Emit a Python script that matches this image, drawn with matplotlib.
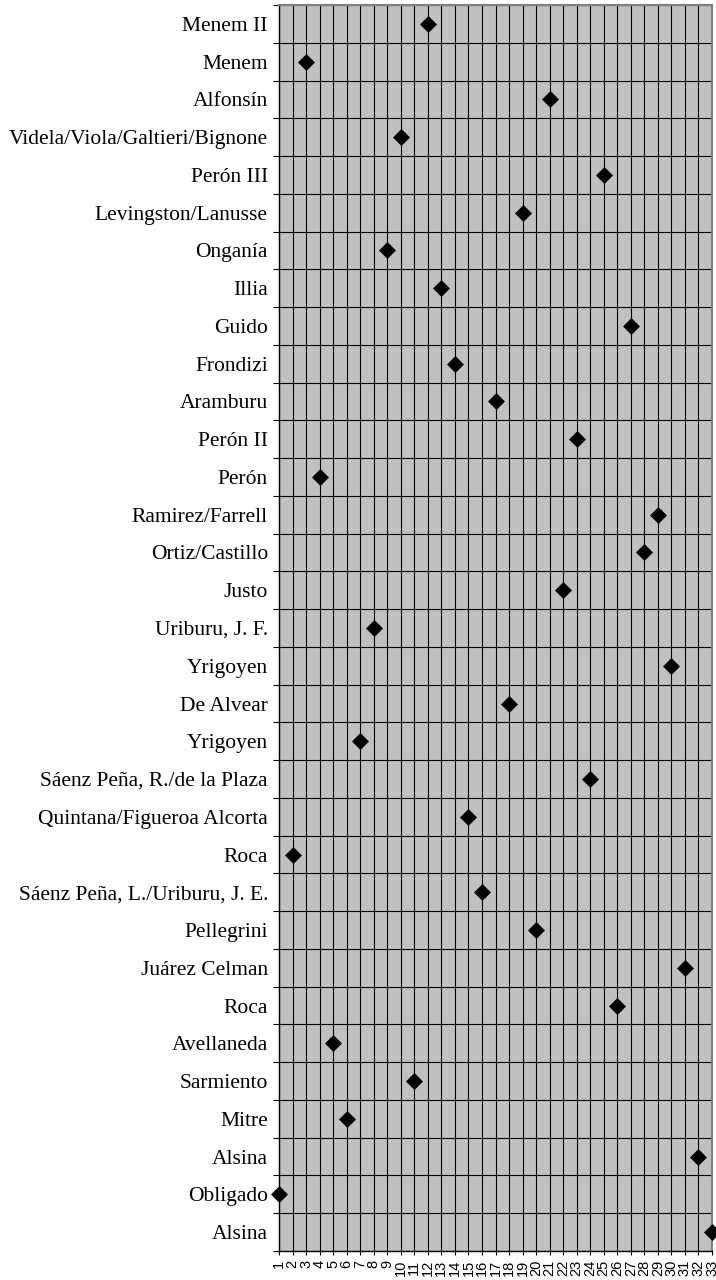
import matplotlib
matplotlib.use('Agg')

import numpy as np
import matplotlib.pyplot as plt
from matplotlib.ticker import FixedLocator

# categories from top to bottom, with the rank of each one
labels = ['Menem II', 'Menem', 'Alfonsín', 'Videla/Viola/Galtieri/Bignone',
          'Perón III', 'Levingston/Lanusse', 'Onganía', 'Illia', 'Guido',
          'Frondizi', 'Aramburu', 'Perón II', 'Perón', 'Ramirez/Farrell',
          'Ortiz/Castillo', 'Justo', 'Uriburu, J. F.', 'Yrigoyen', 'De Alvear',
          'Yrigoyen', 'Sáenz Peña, R./de la Plaza', 'Quintana/Figueroa Alcorta',
          'Roca', 'Sáenz Peña, L./Uriburu, J. E.', 'Pellegrini', 'Juárez Celman',
          'Roca', 'Avellaneda', 'Sarmiento', 'Mitre', 'Alsina', 'Obligado',
          'Alsina']
ranks = [12, 3, 21, 10, 25, 19, 9, 13, 27, 14, 17, 23, 4, 29, 28, 22, 8, 30,
         18, 7, 24, 15, 2, 16, 20, 31, 26, 5, 11, 6, 32, 1, 33]
x_ticks = list(range(1, 34))

fig = plt.figure(figsize=(7.16, 12.8), dpi=100)
ax = fig.add_axes([279 / 716, 1 - 1251 / 1280, 433 / 716, 1246 / 1280])
ax.set_facecolor('#c0c0c0')

n = len(labels)
ypos = np.arange(n)
ax.plot(ranks, ypos, linestyle='none', marker='D', markersize=8.6,
        color='black', markeredgewidth=0.5, clip_on=False, zorder=5)

ax.set_xlim(1, 33)
ax.set_ylim(n - 0.5, -0.5)

ax.set_xticks(x_ticks)
ax.set_xticklabels([str(t) for t in x_ticks], rotation=90,
                   family='Liberation Sans', fontsize=10.5)
ax.set_yticks(ypos)
ax.set_yticklabels(labels, family='Liberation Serif', fontsize=15.5)
ax.yaxis.set_minor_locator(FixedLocator(np.arange(-0.5, n, 1.0)))

ax.tick_params(axis='y', which='major', length=0, pad=8)
ax.tick_params(axis='y', which='minor', length=4, width=0.8, direction='out')
ax.tick_params(axis='x', which='major', length=3, width=0.8, direction='out', pad=3.5)

ax.grid(True, axis='x', which='major', color='black', linewidth=0.8)
ax.grid(True, axis='y', which='minor', color='black', linewidth=0.8)
ax.set_axisbelow(True)

for side in ['left', 'bottom']:
    ax.spines[side].set_color('black')
    ax.spines[side].set_linewidth(1.0)
for side in ['top', 'right']:
    ax.spines[side].set_color('#808080')
    ax.spines[side].set_linewidth(1.5)

fig.savefig('out.png', dpi=100)
